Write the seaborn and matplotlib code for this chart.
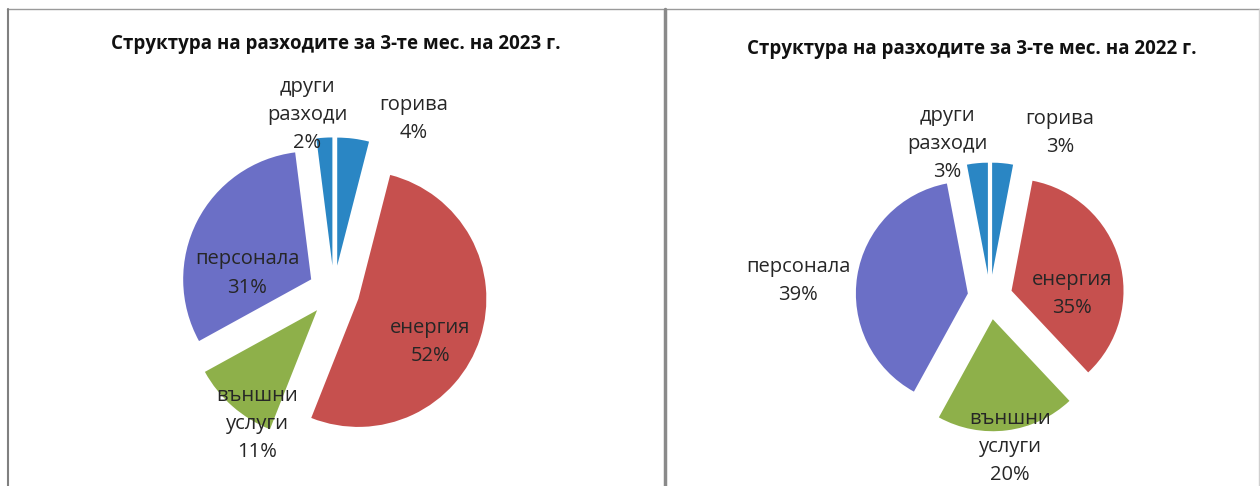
import numpy as np
import matplotlib
matplotlib.use("Agg")
import matplotlib.pyplot as plt
import seaborn as sns
from matplotlib.lines import Line2D

# ---- data ----
categories = ["горива", "енергия", "външни\nуслуги", "персонала", "други\nразходи"]
values_2023 = [4, 52, 11, 31, 2]
values_2022 = [3, 35, 20, 39, 3]
title_2023 = "Структура на разходите за 3-те мес. на 2023 г."
title_2022 = "Структура на разходите за 3-те мес. на 2022 г."

# ---- style ----
sns.set_theme(style="white")
plt.rcParams["font.family"] = ["Open Sans", "DejaVu Sans"]
colors = ["#2A86C4", "#C6504E", "#8EB04A", "#6B6FC6", "#2A86C4"]

W, H = 1260, 486
fig = plt.figure(figsize=(W / 100, H / 100), dpi=100)
fig.patch.set_facecolor("white")

# label placement (distance in radii, clockwise angle from top in degrees)
lab_2023 = [(1.48, 24.9), (0.85, 118.0), (1.20, 210.1), (0.69, 281.4), (1.39, 351.3)]
lab_2022 = [(1.59, 23.1), (0.73, 87.9), (1.35, 172.4), (1.72, 274.8), (1.42, 344.3)]


def draw(panel_x0, panel_x1, cx, cy, r, vals, title, tx, ty, labpos):
    ax = fig.add_axes([panel_x0 / W, 0, (panel_x1 - panel_x0) / W, 1])
    ax.pie(vals, colors=colors, startangle=90, counterclock=False,
           explode=[0.2] * len(vals), wedgeprops=dict(linewidth=0))
    ax.set_xlim((panel_x0 - cx) / r, (panel_x1 - cx) / r)
    ax.set_ylim((cy - H) / r, cy / r)
    ax.set_aspect("auto")
    ax.axis("off")
    for cat, v, (d, ang) in zip(categories, vals, labpos):
        a = np.deg2rad(ang)
        ax.text(d * np.sin(a), d * np.cos(a), f"{cat}\n{v}%", ha="center", va="center",
                multialignment="center", fontsize=14.5, color="#262626", linespacing=1.55)
    fig.text(tx / W, 1 - ty / H, title, ha="center", va="center", fontsize=13.5,
             fontweight="bold", color="#111111")


draw(0, 630, 334, 291, 128, values_2023, title_2023, 336, 44, lab_2023)
draw(630, 1260, 990, 297, 112, values_2022, title_2022, 972, 49, lab_2022)


def fl(x0, y0, x1, y1, lw, c):
    fig.add_artist(Line2D([x0 / W, x1 / W], [1 - y0 / H, 1 - y1 / H], lw=lw, color=c,
                          transform=fig.transFigure))


fl(7, 9, 1260, 9, 1.0, "#9a9a9a")
fl(7.5, 9, 7.5, 486, 1.5, "#808080")
fl(665, 9, 665, 486, 2.5, "#8a8a8a")
fl(1258.5, 9, 1258.5, 486, 1.0, "#d0d0d0")

fig.savefig("out.png", dpi=100, facecolor="white")
